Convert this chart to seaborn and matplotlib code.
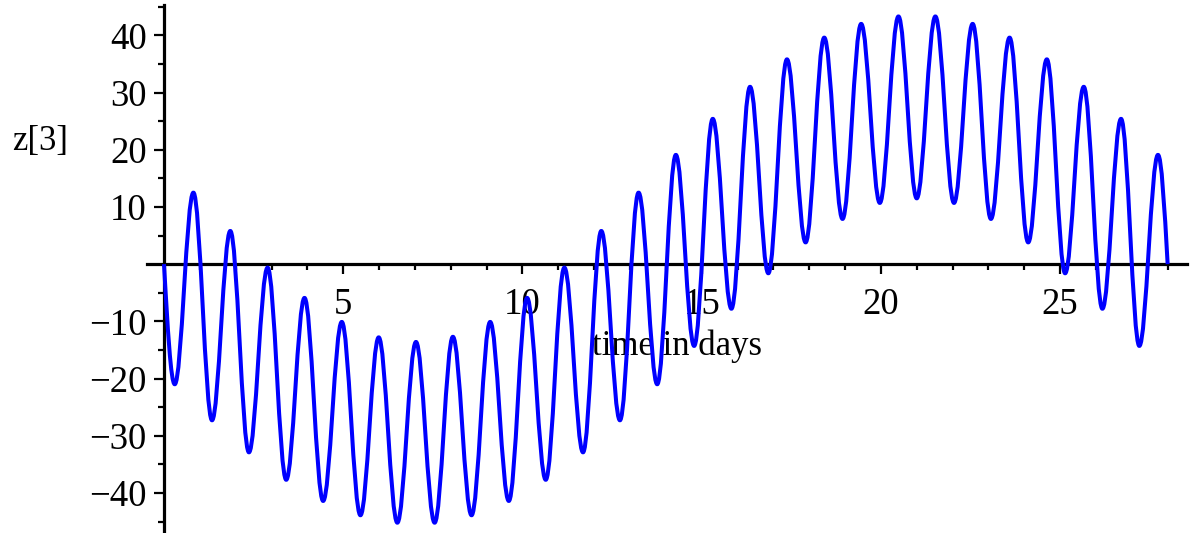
import matplotlib
matplotlib.use("Agg")
import matplotlib.pyplot as plt
from matplotlib.path import Path
from matplotlib.patches import PathPatch
from matplotlib.ticker import FixedLocator, NullFormatter
import seaborn as sns

# Turning points of z[3] over the 28-day run (days, value)
trough_days = [0.30, 1.34, 2.37, 3.41, 4.44, 5.48, 6.51, 7.55, 8.58, 9.62,
               10.65, 11.69, 12.72, 13.76, 14.79, 15.83, 16.86, 17.90, 18.93,
               19.97, 21.00, 22.04, 23.07, 24.11, 25.14, 26.18, 27.21]
trough_z = [-21.0, -27.3, -32.9, -37.7, -41.4, -43.9, -45.2, -45.2, -43.9,
            -41.4, -37.7, -32.9, -27.3, -21.0, -14.3, -7.8, -1.6, 3.8, 7.9,
            10.7, 11.5, 10.7, 7.9, 3.8, -1.6, -7.8, -14.3]
crest_days = [0.82, 1.85, 2.89, 3.92, 4.96, 5.99, 7.03, 8.06, 9.10, 10.13,
              11.17, 12.20, 13.24, 14.28, 15.31, 16.35, 17.38, 18.42, 19.45,
              20.49, 21.52, 22.56, 23.59, 24.63, 25.66, 26.70, 27.73]
crest_z = [12.5, 5.8, -0.6, -5.9, -10.1, -12.8, -13.6, -12.7, -10.1, -5.9,
           -0.6, 5.8, 12.5, 19.1, 25.4, 31.0, 35.8, 39.6, 42.0, 43.3, 43.3,
           42.0, 39.6, 35.8, 31.0, 25.4, 19.1]
start_point = (0.0, 0.0)
end_point = (28.0, 0.0)

x_major = [5, 10, 15, 20, 25]
x_minor = [1, 2, 3, 4, 6, 7, 8, 9, 11, 12, 13, 14, 16, 17, 18, 19,
           21, 22, 23, 24, 26, 27, 28]
y_major = [-40, -30, -20, -10, 10, 20, 30, 40]
y_minor = [-45, -35, -25, -15, -5, 5, 15, 25, 35, 45]

sns.set_theme(style="ticks")
plt.rcParams["font.family"] = ["Liberation Serif", "DejaVu Serif"]
plt.rcParams["axes.unicode_minus"] = True

W, H = 1194, 533
fig = plt.figure(figsize=(W / 100, H / 100), dpi=100)
ax = fig.add_axes([147 / W, 0, 1040 / W, 528 / H])
ax.set_facecolor("white")
fig.patch.set_facecolor("white")

ax.set_xlim(-0.474, 28.54)
ax.set_ylim(-47.0, 45.3)

# Smooth curve through the turning points (cubic Bezier segments,
# flat tangent at every crest and trough)
knots = [start_point]
for td, tz, cd, cz in zip(trough_days, trough_z, crest_days, crest_z):
    knots.append((td, tz))
    knots.append((cd, cz))
knots.append(end_point)

c = 0.364
verts = [knots[0]]
codes = [Path.MOVETO]
for i in range(len(knots) - 1):
    (t0, v0), (t1, v1) = knots[i], knots[i + 1]
    dt, dv = t1 - t0, v1 - v0
    if i == 0:
        p1 = (t0 + dt / 3, v0 + 0.52 * dv)
    else:
        p1 = (t0 + c * dt, v0)
    if i == len(knots) - 2:
        p2 = (t1 - dt / 3, v1 - 0.52 * dv)
    else:
        p2 = (t1 - c * dt, v1)
    verts += [p1, p2, (t1, v1)]
    codes += [Path.CURVE4] * 3

curve = PathPatch(Path(verts, codes), facecolor="none", edgecolor="#0000ff",
                  linewidth=2.9, transform=ax.transData, zorder=4,
                  capstyle="butt", joinstyle="round")
ax.add_patch(curve)

# Axes crossing at the origin
for side in ("top", "right"):
    ax.spines[side].set_visible(False)
ax.spines["left"].set_position(("data", 0))
ax.spines["bottom"].set_position(("data", 0))
for side in ("left", "bottom"):
    ax.spines[side].set_linewidth(2.3)
    ax.spines[side].set_color("black")
    ax.spines[side].set_zorder(3)

ax.xaxis.set_major_locator(FixedLocator(x_major))
ax.xaxis.set_minor_locator(FixedLocator(x_minor))
ax.yaxis.set_major_locator(FixedLocator(y_major))
ax.yaxis.set_minor_locator(FixedLocator(y_minor))
ax.xaxis.set_minor_formatter(NullFormatter())
ax.yaxis.set_minor_formatter(NullFormatter())

ax.tick_params(which="major", direction="out", length=7.5, width=1.6,
               color="black", labelsize=26.5, labelcolor="black")
ax.tick_params(which="minor", direction="out", length=4.2, width=1.6,
               color="black")
ax.tick_params(axis="x", which="major", pad=9)
ax.tick_params(axis="y", which="major", pad=5)
ax.grid(False)

ax.text(677 / W, 1 - 355 / H, "time in days", transform=fig.transFigure,
        ha="center", va="baseline", fontsize=25, color="black", zorder=3)
ax.text(12 / W, 1 - 150 / H, "z[3]", transform=fig.transFigure,
        ha="left", va="baseline", fontsize=25, color="black", zorder=3)

fig.savefig("out.png", dpi=100, facecolor="white")
